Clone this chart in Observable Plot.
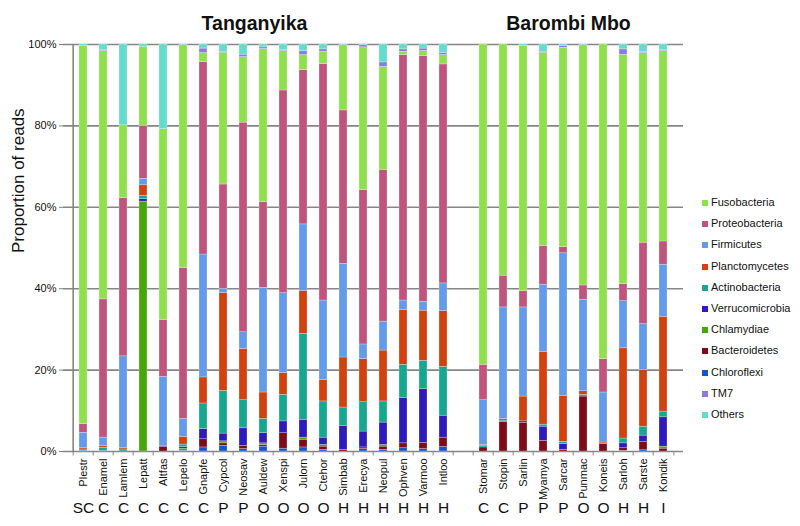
<!DOCTYPE html>
<html>
<head>
<meta charset="utf-8">
<script src="https://cdn.jsdelivr.net/npm/d3@7"></script>
<script src="https://cdn.jsdelivr.net/npm/@observablehq/plot@0.6"></script>
<style>
  body { margin: 0; background: #fff; font-family: "Liberation Sans", Arial, sans-serif; }
  #wrap { position: relative; width: 800px; height: 526px; }
  #legend { position: absolute; left: 700px; top: 196px; font-size: 11px; color: #111; }
  #legend .it { height: 21.2px; display: flex; align-items: flex-start; }
  #legend .sw { width: 6px; height: 6px; margin: 4px 3px 0 2px; }
</style>
</head>
<body>
<div id="wrap"><div id="legend"></div></div>
<script>
// ---- data ----
const lakes = ["Tanganyika", "Barombi Mbo"];
const tanganyika = ["Plestr","Enamel","Lamlem","Lepatt","Altfas","Lepelo","Gnapfe","Cypcol","Neosav","Auldew","Xenspi","Julorn","Ctehor","Simbab","Erecya","Neopul","Ophven","Varmoo","Intloo"];
const barombi = ["Stomar","Stopin","Sarlin","Myamya","Sarcar","Punmac","Koneis","Sarloh","Sarste","Kondik"];
const samples = [...tanganyika, ...barombi];
const diet = ["SC","C","C","C","C","C","C","P","P","O","O","O","O","H","H","H","H","H","H",
              "C","C","P","P","P","O","O","H","H","I"];

// stacking order, bottom to top
const phyla = ["Chloroflexi","Bacteroidetes","Chlamydiae","Verrucomicrobia","Actinobacteria","Planctomycetes","Firmicutes","Proteobacteria","Fusobacteria","TM7","Others"];
const legendOrder = ["Fusobacteria","Proteobacteria","Firmicutes","Planctomycetes","Actinobacteria","Verrucomicrobia","Chlamydiae","Bacteroidetes","Chloroflexi","TM7","Others"];
const colors = {
  Fusobacteria: "#8ee04c", Proteobacteria: "#bf557d", Firmicutes: "#639aea", Planctomycetes: "#d14210",
  Actinobacteria: "#17a78f", Verrucomicrobia: "#2f1bbd", Chlamydiae: "#45a70b", Bacteroidetes: "#7d0b18",
  Chloroflexi: "#1456d0", TM7: "#8b7ce0", Others: "#63dccc"
};

// percentages per sample (same order as samples)
const Chloroflexi     = [0.2,0.2,0,0,0,0.2,1.0,1.4,0.6,1.2,0.7,1.0,0.4,0,0.6,0.4,0.8,0.6,1.1, 0,0,0,0,0,0,0,0.2,0.3,0];
const Bacteroidetes   = [0,0,0,0,1.1,0,2.0,0.6,0.8,0.4,3.8,1.9,0.8,0.4,0.4,0.8,1.2,1.5,2.3, 1.0,7.3,7.0,2.6,0.4,13.5,1.8,0.6,2.1,0.7];
const Chlamydiae      = [0,0,0,61.4,0,0.5,0,0.5,0,0.4,0,0.5,0.4,0,0,0.4,0,0,0, 0,0,0,0,0,0,0,0,0,0.5];
const Verrucomicrobia = [0,0,0,0.6,0.3,0.4,2.5,1.9,4.3,2.5,2.9,4.4,1.8,5.9,3.9,5.5,11.1,13.2,5.4, 0,0,0.4,3.5,1.4,0,0,1.2,1.5,7.2];
const Actinobacteria  = [0.3,0.7,0.5,0.8,0,0.6,6.3,10.5,6.9,3.5,6.5,21.1,8.9,4.5,7.2,5.2,8.2,7.0,12.0, 0.3,0.3,0,0.5,0.6,0.4,0,1.2,2.2,1.4];
const Planctomycetes  = [0.3,0.4,0.3,2.6,0,1.9,6.4,24.0,12.6,6.5,5.4,10.5,5.3,12.3,10.6,12.5,13.5,12.3,13.7, 0.3,0.4,6.1,17.9,11.3,0.9,0.4,22.2,13.9,23.3];
const Firmicutes      = [3.8,2.1,22.6,1.6,16.9,4.4,30.2,1.1,4.1,25.7,19.6,16.4,19.5,23.0,3.6,7.1,2.3,2.2,6.8, 11.0,27.4,21.9,16.5,35.0,22.5,12.3,11.6,11.3,12.8];
const Proteobacteria  = [2.1,33.9,38.9,13.0,14.0,37.2,47.3,25.6,51.5,21.1,49.8,37.9,58.1,37.7,37.9,37.3,60.3,60.4,53.8, 8.7,7.8,4.0,9.5,1.5,3.5,8.2,4.2,20.0,5.7];
const Fusobacteria    = [93.0,60.9,17.9,19.4,46.8,54.8,2.2,32.3,16.1,37.6,9.7,3.7,3.0,16.0,35.1,25.3,0.8,1.2,2.3, 78.7,56.8,60.2,47.4,49.0,59.0,77.3,56.5,46.6,46.8];
const TM7             = [0,0.3,0,0,0,0,1.1,0.3,0.6,0.4,0.3,1.0,0.6,0,0.5,1.1,0.6,0.6,0.5, 0,0,0,0.3,0.4,0,0,1.3,0.3,0.3];
const Others          = [0.4,1.3,19.9,0.6,20.8,0.2,1.0,1.8,2.5,0.7,1.3,1.6,1.2,0.2,0.2,4.4,1.2,1.0,2.1, 0,0,0.4,1.8,0.4,0.2,0,1.2,1.8,1.3];
const yTicks = [0, 0.2, 0.4, 0.6, 0.8, 1];

// ---- build table ----
const series = {Chloroflexi, Bacteroidetes, Chlamydiae, Verrucomicrobia, Actinobacteria, Planctomycetes, Firmicutes, Proteobacteria, Fusobacteria, TM7, Others};
const rows = [];
samples.forEach((s, i) => phyla.forEach(p => rows.push({sample: s, phylum: p, value: series[p][i]})));
const dietRows = samples.map((s, i) => ({sample: s, diet: diet[i]}));

const GAP = "_gap";
const domain = [...tanganyika, GAP, ...barombi];

const W = 800, H = 526, mL = 63, mR = 117, mT = 44, mB = 75;
const step = (W - mL - mR) / domain.length;
const gridColor = "#858585";

const chart = Plot.plot({
  width: W, height: H,
  marginLeft: mL, marginRight: mR, marginTop: mT, marginBottom: mB,
  style: {fontFamily: "Liberation Sans, Arial, sans-serif", color: "#111", background: "white"},
  x: {type: "band", domain, paddingInner: 0.6, paddingOuter: 0.3, axis: null},
  y: {domain: [0, 1], axis: null},
  color: {domain: phyla, range: phyla.map(p => colors[p])},
  marks: [
    Plot.ruleY(yTicks, {stroke: gridColor, strokeWidth: 1.6}),
    Plot.ruleX([domain[0]], {y1: 0, y2: 1, dx: -step / 2, stroke: gridColor, strokeWidth: 1.6}),
    Plot.ruleX(domain, {y1: 0, y2: -0.011, dx: -step / 2, stroke: gridColor, strokeWidth: 1}),
    Plot.ruleX([domain[domain.length - 1]], {y1: 0, y2: -0.011, dx: step / 2, stroke: gridColor, strokeWidth: 1}),
    Plot.axisY({ticks: yTicks, tickFormat: d => Math.round(d * 100) + "%", tickSize: 4, tickPadding: 3, fontSize: 11, label: null, stroke: gridColor}),
    Plot.barY(rows, Plot.stackY({
      x: "sample", y: "value", fill: "phylum", order: phyla, offset: "normalize",
      stroke: "white", strokeWidth: 0.5, strokeOpacity: 0.5
    })),
    Plot.axisX({ticks: samples, tickRotate: -90, tickSize: 0, tickPadding: 7, fontSize: 11, label: null}),
    Plot.text(dietRows, {x: "sample", text: "diet", frameAnchor: "bottom", dy: 61, fontSize: 15.5}),
    Plot.text(["Proportion of reads"], {frameAnchor: "left", dx: -45, dy: 5, rotate: -90, fontSize: 17}),
    Plot.text([{s: "Auldew", t: lakes[0]}], {x: "s", text: "t", frameAnchor: "top", dy: -28, dx: -9, fontSize: 19.5, fontWeight: "bold"}),
    Plot.text([{s: "Sarcar", t: lakes[1]}], {x: "s", text: "t", frameAnchor: "top", dy: -28, dx: 5, fontSize: 19.5, fontWeight: "bold"})
  ]
});
const wrap = document.getElementById("wrap");
wrap.insertBefore(chart, wrap.firstChild);

const legend = d3.select("#legend");
legendOrder.forEach(p => {
  const it = legend.append("div").attr("class", "it");
  it.append("div").attr("class", "sw").style("background", colors[p]);
  it.append("span").text(p);
});
</script>
</body>
</html>
